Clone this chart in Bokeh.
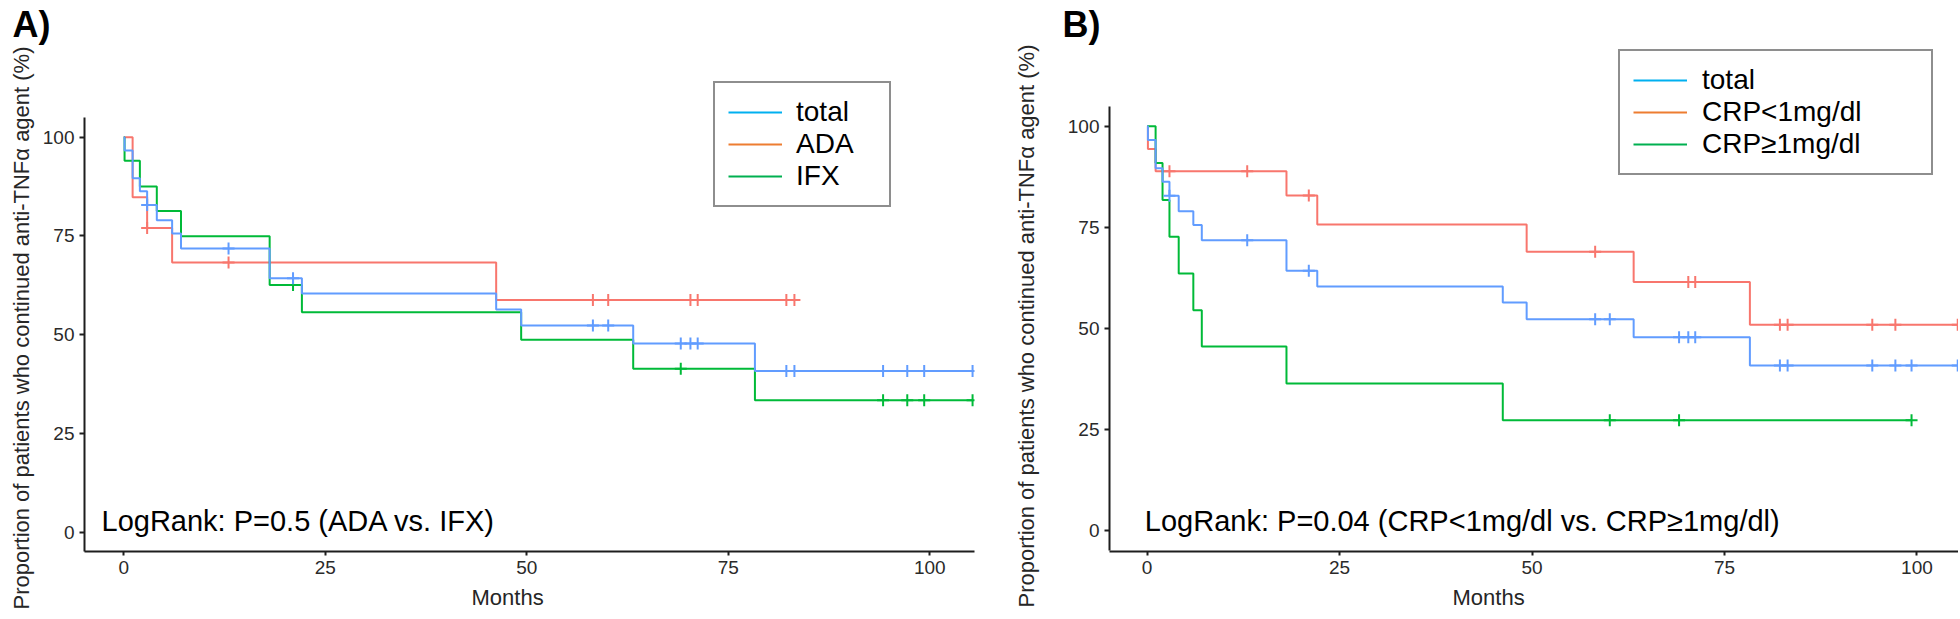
import numpy as np
from bokeh.plotting import figure
from bokeh.models import Label, Legend, LegendItem, Title
from bokeh.layouts import row
from bokeh.embed import file_html
from bokeh.resources import INLINE

# ---------------- data ----------------
# total cohort (same in both panels)
total_t = [0, 0.1, 1.1, 2.0, 2.9, 4.1, 6.0, 7.1, 18.1, 22.1, 46.2, 49.3, 63.2, 78.3]
total_s = [100, 96.6, 89.6, 86.3, 82.8, 79.0, 75.6, 71.8, 64.3, 60.4, 56.4, 52.3, 47.8, 40.8]
total_end = 105.3
total_cens = [2.9, 13.0, 21.0, 58.2, 60.1, 69.1, 70.3, 71.2, 82.2, 83.2, 94.2, 97.2, 99.3, 105.3]

# panel A: ADA / IFX
ada_t = [0, 1.1, 2.9, 6.0, 46.2]
ada_s = [100, 84.8, 77.0, 68.3, 58.8]
ada_end = 83.2
ada_cens = [2.9, 13.0, 58.2, 60.1, 70.3, 71.2, 82.2, 83.2]

ifx_t = [0, 0.1, 2.0, 4.1, 7.1, 18.1, 22.1, 49.3, 63.2, 78.3]
ifx_s = [100, 94.0, 87.5, 81.3, 74.9, 62.6, 55.7, 48.7, 41.4, 33.4]
ifx_end = 105.3
ifx_cens = [21.0, 69.1, 94.2, 97.2, 99.3, 105.3]

# panel B: CRP groups
crplo_t = [0, 0.1, 1.1, 18.1, 22.1, 49.3, 63.2, 78.3]
crplo_s = [100, 94.4, 88.9, 82.9, 75.7, 69.0, 61.5, 50.9]
crplo_end = 105.3
crplo_cens = [2.9, 13.0, 21.0, 58.2, 70.3, 71.2, 82.2, 83.2, 94.2, 97.2, 105.3]

crphi_t = [0, 1.1, 2.0, 2.9, 4.1, 6.0, 7.1, 18.1, 46.2]
crphi_s = [100, 90.9, 81.8, 72.7, 63.6, 54.5, 45.5, 36.4, 27.3]
crphi_end = 99.3
crphi_cens = [60.1, 69.1, 99.3]

ticks = [0, 25, 50, 75, 100]
legend_A = ["total", "ADA", "IFX"]
legend_B = ["total", "CRP<1mg/dl", "CRP\u22651mg/dl"]

# ---------------- styles ----------------
C_RED, C_GREEN, C_BLUE = "#F8766D", "#00BA38", "#619CFF"
L_BLUE, L_ORANGE, L_GREEN = "#00B0F0", "#ED7D31", "#00B050"
FONT = "Liberation Sans"
INK = "#1e1e1e"
YLAB = "Proportion of patients who continued anti-TNF\u03b1 agent (%)"
H = 617
FRAME_TOP = 44
FRAME_BOTTOM = 551


def surv_at(t, times, surv):
    idx = np.searchsorted(np.asarray(times), np.asarray(t), side="right") - 1
    return list(np.asarray(surv)[idx])


def add_curve(p, times, surv, end, cens, color):
    xs = list(times) + [end]
    ys = list(surv) + [surv[-1]]
    p.step(x=xs, y=ys, mode="after", line_color=color, line_width=2)
    p.scatter(x=cens, y=surv_at(cens, times, surv), marker="cross", size=12,
              line_color=color, line_width=2)


def make_fig(width, x_range, y_range, mb_left, mb_right):
    p = figure(width=width, height=H, x_range=x_range, y_range=y_range,
               output_backend="svg", toolbar_location=None,
               min_border_left=mb_left, min_border_top=FRAME_TOP,
               min_border_bottom=H - FRAME_BOTTOM, min_border_right=mb_right)
    p.grid.visible = False
    p.outline_line_color = None
    p.background_fill_color = "white"
    p.border_fill_color = "white"
    for ax in (p.xaxis[0], p.yaxis[0]):
        ax.ticker = ticks
        ax.axis_line_color = INK
        ax.axis_line_width = 2
        ax.major_tick_line_color = INK
        ax.major_tick_line_width = 2
        ax.major_tick_in = 0
        ax.minor_tick_line_color = None
        ax.major_label_text_font = FONT
        ax.major_label_text_font_size = "19px"
        ax.major_label_text_color = "#2a2a2a"
    p.yaxis.major_tick_out = 5
    p.yaxis.major_label_standoff = 5
    p.yaxis.bounds = (-5, 105)
    p.xaxis.major_tick_out = 4
    p.xaxis.major_label_standoff = 5
    return p


def add_legend(p, labels, colors, loc, label_width, standoff):
    items = []
    for lab, col in zip(labels, colors):
        r = p.line(x=[np.nan], y=[np.nan], line_color=col, line_width=2)
        items.append(LegendItem(label=lab, renderers=[r]))
    leg = Legend(items=items, location=loc, orientation="vertical",
                 border_line_color=INK, border_line_width=2,
                 background_fill_color="white", background_fill_alpha=1.0,
                 label_text_font=FONT, label_text_font_size="28px",
                 label_text_color="black",
                 glyph_width=54, glyph_height=28, label_height=28,
                 spacing=0, padding=13, label_standoff=standoff,
                 label_width=label_width, margin=0)
    p.add_layout(leg)


def add_titles(p, letter, letter_offset, months_offset, ylab_offset, ylab_standoff):
    p.title.text = letter
    p.title.align = "left"
    p.title.offset = letter_offset
    p.title.standoff = 2
    p.title.text_font = FONT
    p.title.text_font_size = "36px"
    p.title.text_font_style = "bold"
    p.title.text_color = "black"
    mt = Title(text="Months", align="left", offset=months_offset, standoff=12,
               text_font=FONT, text_font_size="22px", text_font_style="normal",
               text_color="#262626")
    p.add_layout(mt, "below")
    yt = Title(text=YLAB, align="left", offset=ylab_offset, standoff=ylab_standoff,
               text_font=FONT, text_font_size="22px", text_font_style="normal",
               text_color="#262626")
    p.add_layout(yt, "left")


# ---------------- panel A ----------------
pA = make_fig(977, (-4.87, 105.54), (-4.87, 123.2), 83, 3)
add_titles(pA, "A)", -72, 387, -58, 12)
add_curve(pA, ada_t, ada_s, ada_end, ada_cens, C_RED)
add_curve(pA, ifx_t, ifx_s, ifx_end, ifx_cens, C_GREEN)
add_curve(pA, total_t, total_s, total_end, total_cens, C_BLUE)
add_legend(pA, legend_A, [L_BLUE, L_ORANGE, L_GREEN], (629, 344), 80, 14)
pA.add_layout(Label(x=-2.76, y=2.8, text="LogRank: P=0.5 (ADA vs. IFX)",
                    text_font=FONT, text_font_size="29px", text_color="black",
                    text_baseline="alphabetic"))

# ---------------- panel B ----------------
pB = make_fig(981, (-4.89, 105.4), (-5.19, 120.0), 132, 0)
add_titles(pB, "B)", -47, 343, -56, 52)
add_curve(pB, crplo_t, crplo_s, crplo_end, crplo_cens, C_RED)
add_curve(pB, crphi_t, crphi_s, crphi_end, crphi_cens, C_GREEN)
add_curve(pB, total_t, total_s, total_end, total_cens, C_BLUE)
add_legend(pB, legend_B, [L_BLUE, L_ORANGE, L_GREEN], (509, 376), 216, 15)
pB.add_layout(Label(x=-0.3, y=2.3,
                    text="LogRank: P=0.04 (CRP<1mg/dl vs. CRP\u22651mg/dl)",
                    text_font=FONT, text_font_size="29px", text_color="black",
                    text_baseline="alphabetic"))

layout = row(pA, pB)
open("out.html", "w").write(file_html(layout, INLINE))
